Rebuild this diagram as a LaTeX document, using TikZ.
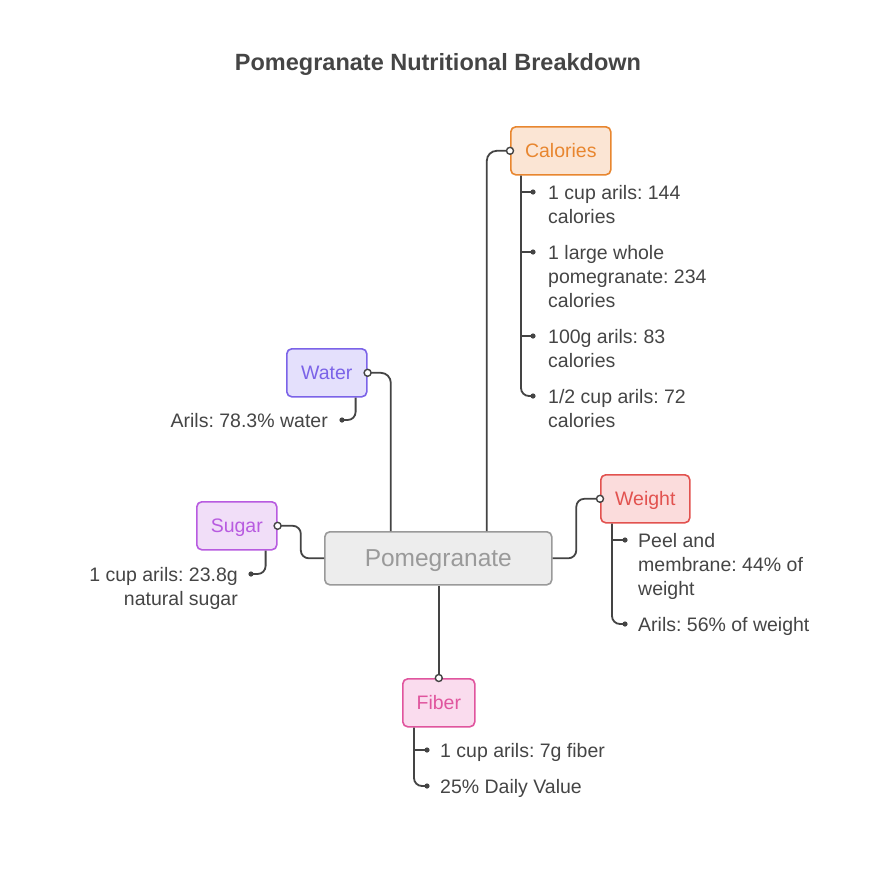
\documentclass[tikz,border=0pt]{standalone}
\usepackage{fontspec}
\setmainfont{Liberation Sans}
\usepackage{xcolor}
\usetikzlibrary{positioning,calc}
\frenchspacing

\definecolor{linegray}{HTML}{444444}
\definecolor{textgray}{HTML}{454545}
\definecolor{rootline}{HTML}{9A9A9A}
\definecolor{rootfill}{HTML}{EDEDED}
\definecolor{calline}{HTML}{E8862F}
\definecolor{calfill}{HTML}{FBE5D4}
\definecolor{watline}{HTML}{7B63E8}
\definecolor{watfill}{HTML}{E4E0FC}
\definecolor{sugline}{HTML}{B85BE0}
\definecolor{sugfill}{HTML}{F1DEF8}
\definecolor{weiline}{HTML}{E2524F}
\definecolor{weifill}{HTML}{FBDCDC}
\definecolor{fibline}{HTML}{E0559E}
\definecolor{fibfill}{HTML}{FADCEE}

\tikzset{
    conn/.style={draw=linegray, line width=1.8pt},
    topic/.style args={#1/#2}{draw=#1, fill=#2, text=#1, line width=1.6pt,
        rounded corners=5pt, minimum height=48pt, inner sep=0pt, text depth=0pt,
        font=\fontsize{19.5}{24}\selectfont},
    item/.style={text=textgray, align=left, inner sep=0pt,
        font=\fontsize{19.5}{24}\selectfont},
    ring/.style={circle, draw=linegray, fill=white, line width=1.4pt,
        minimum size=7pt, inner sep=0pt},
}

\begin{document}
\begin{tikzpicture}[x=1pt,y=-1pt]
    \fill[white] (0,0) rectangle (876,876);
    \useasboundingbox (0,0) rectangle (876,876);

    \node[font=\bfseries\fontsize{23.5}{28}\selectfont, text=textgray] (title) at (438,64) {Pomegranate Nutritional Breakdown};

    % central node and topics
    \node[draw=rootline, fill=rootfill, text=rootline, line width=1.6pt, rounded corners=5pt,
        minimum width=227pt, minimum height=53pt, inner sep=0pt, text depth=0pt, anchor=north west,
        font=\fontsize{24.5}{28}\selectfont] (root) at (324,531) {Pomegranate};
    \node[topic=calline/calfill, minimum width=100pt, anchor=north west] (calories) at (510,126) {Calories};
    \node[topic=watline/watfill, minimum width=80pt, anchor=north west] (water) at (286,348) {Water};
    \node[topic=sugline/sugfill, minimum width=80pt, anchor=north west] (sugar) at (196,501) {Sugar};
    \node[topic=weiline/weifill, minimum width=89pt, anchor=north west] (weight) at (600,474) {Weight};
    \node[topic=fibline/fibfill, minimum width=72pt, anchor=north west] (fiber) at (402,678) {Fiber};

    % connectors from the centre
    \draw[conn, rounded corners=10pt] ([xshift=48.5pt]root.north) |- (calories.west);
    \draw[conn, rounded corners=10pt] ([xshift=-47.5pt]root.north) |- (water.east);
    \draw[conn, rounded corners=8pt] (root.west) -| ($(root.west)!0.5!(sugar.east)$) |- (sugar.east);
    \draw[conn, rounded corners=8pt] (root.east) -| ($(root.east)!0.5!(weight.west)$) |- (weight.west);
    \draw[conn] (root.south -| fiber.north) -- (fiber.north);
    \foreach \n/\a in {calories/west, water/east, sugar/east, weight/west, fiber/north}
        \node[ring] at (\n.\a) {};

    % calories (base anchor sits on the last line)
    \foreach \ty/\nl/\txt [count=\i] in {192/2/{1 cup arils: 144\\calories}, 252/3/{1 large whole\\pomegranate: 234\\calories}, 336/2/{100g arils: 83\\calories}, 396/2/{1/2 cup arils: 72\\calories}} {
        \coordinate (cal\i) at (533,\ty);
        \node[item, anchor=base west] (caltext\i) at (548,\ty+7+24*\nl-24) {\txt};
    }
    \coordinate (caltrunk) at ([xshift=11pt]calories.south west);
    \draw[conn, rounded corners=8pt] (caltrunk) |- (cal4);
    \foreach \i in {1,2,3}
        \draw[conn] (caltrunk |- cal\i) -- (cal\i);

    % water
    \coordinate (wat1) at (342,420);
    \node[item, anchor=base east] (wattext1) at (328,427) {Arils: 78.3\% water};
    \coordinate (wattrunk) at ([xshift=-12pt]water.south east);
    \draw[conn, rounded corners=8pt] (wattrunk) |- (wat1);

    % sugar
    \coordinate (sug1) at (251,574);
    \node[item, align=right, anchor=base east] (sugtext1) at (238,605) {1 cup arils: 23.8g\\natural sugar};
    \coordinate (sugtrunk) at ([xshift=-12pt]sugar.south east);
    \draw[conn, rounded corners=8pt] (sugtrunk) |- (sug1);

    % weight
    \foreach \ty/\nl/\txt [count=\i] in {540/3/{Peel and\\membrane: 44\% of\\weight}, 624/1/{Arils: 56\% of weight}} {
        \coordinate (wei\i) at (625,\ty);
        \node[item, anchor=base west] (weitext\i) at (638,\ty+7+24*\nl-24) {\txt};
    }
    \coordinate (weitrunk) at ([xshift=12pt]weight.south west);
    \draw[conn, rounded corners=8pt] (weitrunk) |- (wei2);
    \draw[conn] (weitrunk |- wei1) -- (wei1);

    % fiber
    \foreach \ty/\txt [count=\i] in {750/{1 cup arils: 7g fiber}, 786/{25\% Daily Value}} {
        \coordinate (fib\i) at (427,\ty);
        \node[item, anchor=base west] (fibtext\i) at (440,\ty+7) {\txt};
    }
    \coordinate (fibtrunk) at ([xshift=12pt]fiber.south west);
    \draw[conn, rounded corners=8pt] (fibtrunk) |- (fib2);
    \draw[conn] (fibtrunk |- fib1) -- (fib1);

    % bullets
    \foreach \p in {cal1,cal2,cal3,cal4,wat1,sug1,wei1,wei2,fib1,fib2}
        \fill[linegray] (\p) circle (2.6pt);
\end{tikzpicture}
\end{document}
